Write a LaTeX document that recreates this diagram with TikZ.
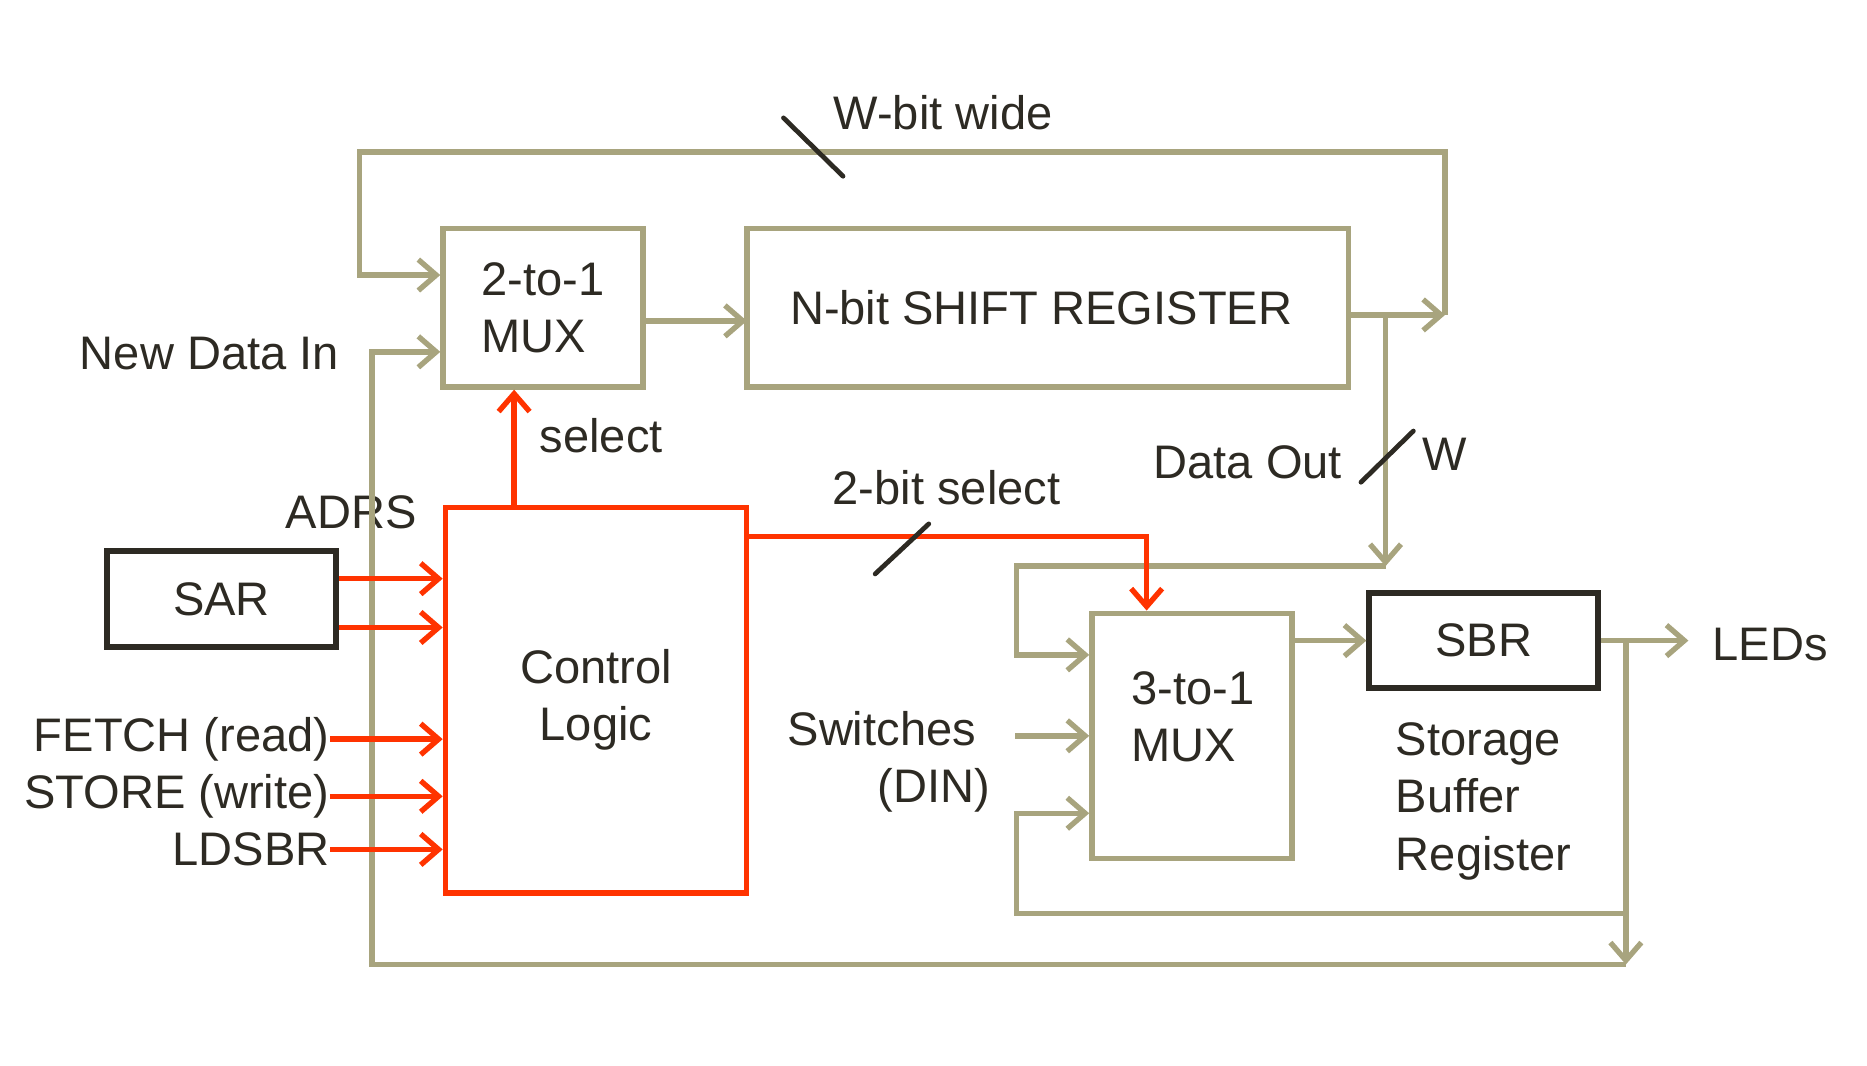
\documentclass[tikz,border=0pt]{standalone}
\usepackage{fontspec}
\setmainfont{Liberation Sans}
\usetikzlibrary{
  positioning,
  calc,
  arrows.meta}
\definecolor{wirecolor}{RGB}{168,164,126}
\definecolor{ctlcolor}{RGB}{255,51,0}
\definecolor{inkcolor}{RGB}{45,42,35}
\tikzset{
  %% datapath : tan boxes of the data path
  datapath/.style={
    rectangle,
    draw=wirecolor,
    line width=0.09cm,
    align=left
  },
  %% regbox : dark register boxes (SAR, SBR)
  regbox/.style={
    rectangle,
    draw=inkcolor,
    line width=0.1cm,
    minimum width=3.84cm,
    minimum height=1.6cm
  },
  %% ctlbox : the control logic block
  ctlbox/.style={
    rectangle,
    draw=ctlcolor,
    line width=0.09cm,
    minimum width=5.06cm,
    minimum height=6.48cm,
    align=center
  },
  %% lbl : plain text labels
  lbl/.style={inner sep=0pt},
  %% wire : data connection
  wire/.style={draw=wirecolor, line width=0.09cm},
  %% ctl : control signal
  ctl/.style={draw=ctlcolor, line width=0.09cm},
  %% slash : bus width mark
  slash/.style={draw=inkcolor, line width=0.08cm, line cap=round}
}

\begin{document}
\begin{tikzpicture}
  [x=0.02cm,
  y=-0.02cm,
  >={Straight Barb[length=0.3cm, width=0.52cm]},
  font=\fontsize{22.5}{27.3}\selectfont,
  text=inkcolor]

  \useasboundingbox (0,0) rectangle (1568,895);

  %% Blocks
  \node (mux1) [datapath, minimum width=3.36cm, minimum height=2.66cm]
  at (456,258.5) {%
    2-to-1\\
    MUX
  };

  \node (shiftreg) [datapath, minimum width=10.1cm, minimum height=2.66cm,
  right=1.66cm of mux1] {%
    N-bit SHIFT REGISTER
  };

  \node (ctrl) [ctlbox] at (500.5,588) {%
    Control\\
    Logic
  };

  \node (sar) [regbox] at (186,503) {SAR};

  \node (mux2) [datapath, minimum width=3.36cm, minimum height=4.12cm]
  at (1001,618) {};
  \node (mux2txt) [lbl, anchor=west, align=left] at (950,602) {%
    3-to-1\\
    MUX
  };

  \node (sbr) [regbox] at (1246,538) {SBR};
  \node (sbrname) [lbl, anchor=west, align=left] at (1172,673) {%
    Storage\\
    Buffer\\
    Register
  };

  %% Labels
  \node (wide) [lbl, anchor=base] at (792,109) {W-bit wide};
  \node (newdata) [lbl, anchor=base east] at (285,310) {New Data In};
  \node (selectlbl) [lbl, anchor=base] at (505,380) {select};
  \node (adrs) [lbl, anchor=base] at (295,444) {ADRS};
  \node (fetch) [lbl, anchor=base east] at (277,631) {FETCH (read)};
  \node (store) [lbl, anchor=base east] at (277,679) {STORE (write)};
  \node (ldsbr) [lbl, anchor=base east] at (277,727) {LDSBR};
  \node (twobit) [lbl, anchor=base] at (795,424) {2-bit select};
  \node (dataout) [lbl, anchor=base] at (1048,402) {Data Out};
  \node (wlbl) [lbl, anchor=base] at (1213,395) {W};
  \node (switches) [lbl, anchor=east, align=right] at (832,640) {%
    Switches\hspace*{0.24cm}\\
    (DIN)
  };
  \node (leds) [lbl, inner xsep=0.4cm, anchor=base west] at (1418,555) {LEDs};

  %% Data path wires
  \draw [wire, ->] (mux1.east |- {$(mux1.east)+(0,11)$}) -- ++(85,0);
  \coordinate (loopc) at ($(shiftreg.east)+(79,6)$);
  \coordinate (looptop) at ($(mux1.north west)+(-68,-62)$);
  \draw [wire, ->] (shiftreg.east |- loopc) -- (loopc);
  \draw [wire, ->] (loopc) |- (looptop) |- ($(mux1.west)+(0,-27.5)$);

  % Data Out to the 3-to-1 MUX
  \coordinate (doutj) at ($(shiftreg.east)+(29,6)$);
  \coordinate (doutb) at ($(doutj)+(0,211)$);
  \draw [wire, ->] (doutj) -- (doutb);
  \draw [wire, ->] (doutb) -- ++(-310,0) |- ($(mux2.west)+(0,-68)$);
  \draw [wire, ->] ($(mux2.west)+(-62,0)$) -- (mux2.west);
  \draw [wire, ->] (mux2.east |- sbr.west) -- (sbr.west);

  % SBR output and feedback
  \draw [wire, ->] (sbr.east) -- (sbr.east -| leds.west);
  \coordinate (fbj) at ($(sbr.east)+(21,0)$);
  \coordinate (fbb) at ($(fbj)+(0,272)$);
  \draw [wire, ->] (fbj) -- (fbb);
  \draw [wire, ->] ($(fbj)+(0,229)$) -- ++(-512,0) |- ($(mux2.west)+(0,65)$);
  \draw [wire, ->] (fbb) -- ++(-1053,0) |- ($(mux1.west)+(0,37)$);

  %% Control signals
  \draw [ctl, ->] ($(ctrl.north west)+(60,0)$) coordinate (selbase)
  -- (selbase |- mux1.south);
  \draw [ctl, ->] ($(ctrl.north east)+(0,27)$) -| ($(mux2.north)+(-38,0)$);
  \draw [ctl, ->] ($(sar.east)+(0,-17)$) coordinate (adrsa) -- (adrsa -| ctrl.west);
  \draw [ctl, ->] ($(sar.east)+(0,24)$) coordinate (adrsb) -- (adrsb -| ctrl.west);
  \draw [ctl, ->] (fetch.east) -- (fetch.east -| ctrl.west);
  \draw [ctl, ->] (store.east) -- (store.east -| ctrl.west);
  \draw [ctl, ->] (ldsbr.east) -- (ldsbr.east -| ctrl.west);

  %% Bus width marks
  \draw [slash] (658,99) -- (708,148);
  \draw [slash] (735,482) -- (780,440);
  \draw [slash] (1143,405) -- (1187,362);

\end{tikzpicture}
\end{document}
